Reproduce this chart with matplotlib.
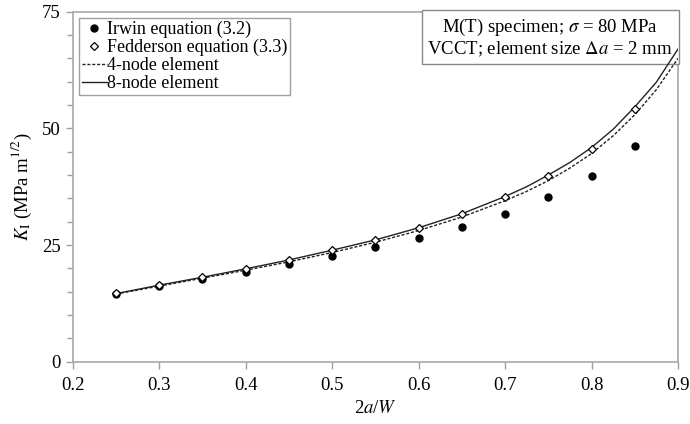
import matplotlib
matplotlib.use("Agg")
import matplotlib.pyplot as plt

plt.rcParams['font.family'] = ['Liberation Serif', 'DejaVu Serif']
plt.rcParams['mathtext.fontset'] = 'stix'

# crack ratio 2a/W for the analytical points
ratio = [0.25, 0.30, 0.35, 0.40, 0.45, 0.50, 0.55, 0.60, 0.65, 0.70, 0.75, 0.80, 0.85]
irwin = [14.6, 16.2, 17.7, 19.3, 20.9, 22.6, 24.5, 26.6, 28.9, 31.7, 35.2, 39.7, 46.2]
fedderson = [14.8, 16.5, 18.2, 19.9, 21.8, 23.9, 26.1, 28.7, 31.6, 35.2, 39.7, 45.6, 54.1]

# FE results (VCCT)
fe_ratio = [0.25, 0.30, 0.35, 0.40, 0.45, 0.50, 0.55, 0.60, 0.65, 0.70, 0.725,
            0.75, 0.775, 0.80, 0.825, 0.85, 0.875, 0.90]
node4 = [14.5, 16.2, 17.9, 19.6, 21.4, 23.4, 25.6, 28.1, 31.0, 34.5, 36.5,
         38.8, 41.5, 44.6, 48.4, 52.9, 58.3, 65.0]
node8 = [14.6, 16.4, 18.1, 19.9, 21.8, 23.9, 26.1, 28.7, 31.7, 35.4, 37.5,
         40.0, 42.7, 45.9, 49.8, 54.6, 59.9, 67.0]

fig = plt.figure(figsize=(6.9, 4.24), dpi=100)
ax = fig.add_axes([0.1054, 0.1469, 0.8772, 0.8255])

ax.plot(ratio, irwin, 'o', color='black', markersize=5, label='Irwin equation (3.2)', zorder=5)
ax.plot(ratio, fedderson, 'D', color='black', markerfacecolor='white', markersize=4,
        markeredgewidth=0.9, label='Fedderson equation (3.3)', zorder=5)
ax.plot(fe_ratio, node4, color='#222222', lw=1.0, dashes=(2.2, 1.3), label='4-node element', zorder=4)
ax.plot(fe_ratio, node8, color='#222222', lw=1.0, label='8-node element', zorder=4)

ax.set_xlim(0.2, 0.9)
ax.set_ylim(0, 75)
ax.set_xticks([0.2, 0.3, 0.4, 0.5, 0.6, 0.7, 0.8, 0.9])
ax.set_yticks([0, 25, 50, 75])
ax.set_yticks(range(0, 76, 5), minor=True)
ax.tick_params(axis='both', which='both', color='#a0a0a0', labelsize=13.5, width=1.0)
ax.tick_params(axis='both', which='major', length=5)
ax.tick_params(axis='y', which='minor', length=4)
ax.tick_params(axis='x', pad=6)
for s in ax.spines.values():
    s.set_color('#a8a8a8')
    s.set_linewidth(1.2)

ax.set_xlabel('2$a$/$W$', fontsize=13.5, labelpad=4)
ax.set_ylabel('$K_\\mathrm{I}$ (MPa m$^{1/2}$)', fontsize=13.5, labelpad=6)

leg = ax.legend(loc='upper left', fontsize=13, frameon=True, fancybox=False,
                handlelength=1.4, handletextpad=0.0, labelspacing=0.05,
                borderpad=0.15, borderaxespad=0.35, bbox_to_anchor=(0.0, 1.0))
leg.get_frame().set_edgecolor('#888888')
leg.get_frame().set_linewidth(1.0)

ax.text(0.789, 0.925, 'M(T) specimen; $\\sigma$ = 80 MPa\nVCCT; element size $\\Delta a$ = 2 mm',
        transform=ax.transAxes, ha='center', va='center', multialignment='center',
        fontsize=13.5, linespacing=1.1, zorder=3,
        bbox=dict(boxstyle='square,pad=0.3', facecolor='white', edgecolor='#888888', linewidth=1.0))

fig.savefig('out.png', dpi=100)
